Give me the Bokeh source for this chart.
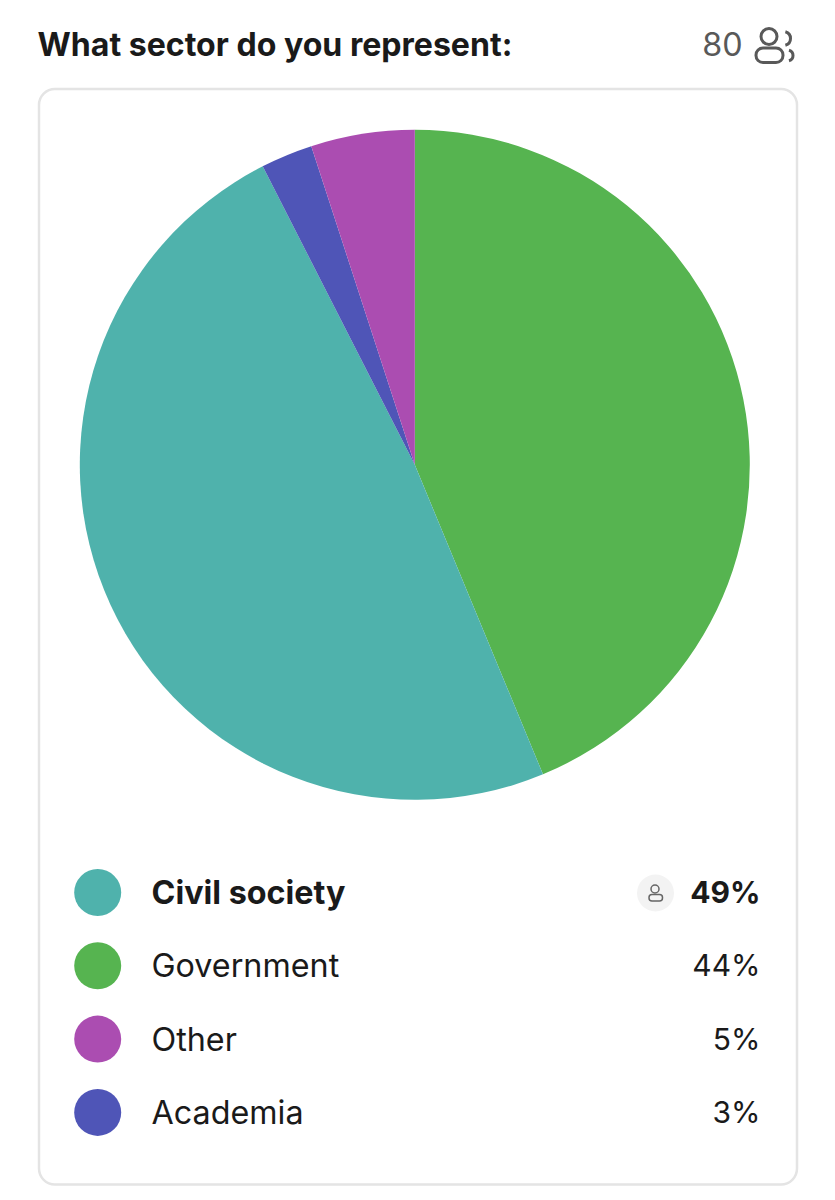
import numpy as np
from bokeh.core.properties import value
from bokeh.embed import file_html
from bokeh.models import ColumnDataSource, Range1d
from bokeh.plotting import figure
from bokeh.resources import INLINE

# --- data ---
title = "What sector do you represent:"
respondents = "80"
pie_categories = ["Government", "Civil society", "Academia", "Other"]
pie_counts = [35, 39, 2, 4]
pie_colors = ["#56B450", "#4FB2AC", "#4F55B7", "#AB4DB1"]
legend_categories = ["Civil society", "Government", "Other", "Academia"]
legend_labels = ["49%", "44%", "5%", "3%"]
legend_colors = ["#4FB2AC", "#56B450", "#AB4DB1", "#4F55B7"]
legend_bold = [True, False, False, False]

W, H = 827, 1192
FONT = value("Inter")
INK = "#1A1A1A"


def Y(py):
    return H - np.asarray(py, dtype=float)


p = figure(width=W, height=H, output_backend="svg", toolbar_location=None,
           x_range=Range1d(0, W), y_range=Range1d(0, H),
           min_border=0, outline_line_color=None, background_fill_color="white",
           border_fill_color="white")
p.axis.visible = False
p.grid.visible = False

# card
p.quad(left=[38.5], right=[796.5], top=Y([88.5]), bottom=Y([1184]),
       fill_color="white", line_color="#E4E4E4", line_width=2.5, border_radius=16)

# pie
fractions = np.array(pie_counts) / sum(pie_counts)
ends = np.cumsum(fractions) * 2 * np.pi
starts = np.concatenate([[0], ends[:-1]])
src = ColumnDataSource(dict(start=np.pi / 2 - starts, end=np.pi / 2 - ends, color=pie_colors))
p.wedge(x=414.3, y=Y(464.3), radius=335, start_angle="start", end_angle="end",
        direction="clock", fill_color="color", line_color=None, source=src)

# header
p.text(x=[37], y=Y([44]), text=[title], text_font=FONT, text_font_style="bold",
       text_font_size="32.1px", text_color=INK, text_baseline="alphabetic")
p.text(x=[742], y=Y([43]), text=[respondents], text_font=FONT, text_font_size="32.3px",
       text_color="#595959", text_align="right", text_baseline="alphabetic")

# header icon
ICON = "#595959"
p.circle(x=[768.5], y=Y([36]), radius=8, fill_color=None, line_color=ICON, line_width=3)
p.quad(left=[755.5], right=[782.5], top=Y([47.5]), bottom=Y([62]), fill_color=None,
       line_color=ICON, line_width=3, border_radius=7)
p.arc(x=[783], y=Y([38]), radius=7, start_angle=-1.3, end_angle=1.3,
      line_color=ICON, line_width=3)
p.arc(x=[787], y=Y([55]), radius=5.5, start_angle=-1.3, end_angle=1.3,
      line_color=ICON, line_width=3)

# legend
rows = 892 + 73.3 * np.arange(len(legend_categories))
p.circle(x=[97.2] * 4, y=Y(rows), radius=23.5, fill_color=legend_colors, line_color=None)
for row, name, pct, bold in zip(rows, legend_categories, legend_labels, legend_bold):
    style = "bold" if bold else "normal"
    p.text(x=[151], y=Y([row]), text=[name], text_font=FONT, text_font_style=style,
           text_font_size="32.3px", text_color=INK, text_baseline="alphabetic")
    p.text(x=[760], y=Y([row - 0.5]), text=[pct], text_font=FONT, text_font_style=style,
           text_font_size="30px", text_color=INK, text_align="right", text_baseline="alphabetic")

# "your answer" badge
p.circle(x=[655], y=Y([892.5]), radius=18.5, fill_color="#F3F3F3", line_color=None)
p.circle(x=[654.5], y=Y([888.5]), radius=4, fill_color=None, line_color="#666666", line_width=1.5)
p.quad(left=[648.5], right=[662], top=Y([894]), bottom=Y([900.5]), fill_color=None,
       line_color="#666666", line_width=1.5, border_radius=3)

open("out.html", "w").write(file_html(p, INLINE))
